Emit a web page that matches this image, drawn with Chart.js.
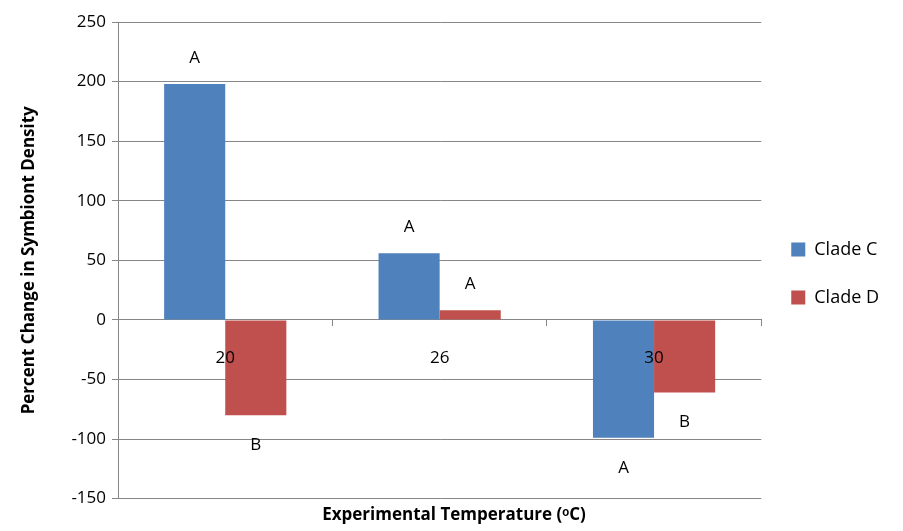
<!DOCTYPE html>
<html><head><meta charset="utf-8">
<script src="https://cdn.jsdelivr.net/npm/chart.js@4.4.1/dist/chart.umd.min.js"></script>
<style>html,body{margin:0;background:#fff}#wrap{width:903px;height:531px}</style>
</head><body><div id="wrap"><canvas id="c"></canvas></div>
<script>
const categories = ['20', '26', '30'];
const cladeC = [198, 56, -99];
const cladeD = [-80, 8, -61];
const lettersC = ['A', 'A', 'A'];
const lettersD = ['B', 'A', 'B'];
const yTicks = [250, 200, 150, 100, 50, 0, -50, -100, -150];
const FONT = '"Open Sans", sans-serif';

// Lettres de significativité + libellés de catégorie dessinés par-dessus les barres.
const letterPlugin = {
  id: 'letters',
  afterDatasetsDraw(chart) {
    const ctx = chart.ctx;
    ctx.save();
    ctx.font = '17px ' + FONT;
    ctx.fillStyle = '#000';
    ctx.textAlign = 'center';
    ctx.textBaseline = 'middle';
    [lettersC, lettersD].forEach((letters, di) => {
      chart.getDatasetMeta(di).data.forEach((bar, i) => {
        const v = chart.data.datasets[di].data[i];
        const y = v >= 0 ? bar.y - 26 : bar.y + 30;
        ctx.fillText(letters[i], bar.x, y);
      });
    });
    const xs = chart.scales.x, y0 = chart.scales.y.getPixelForValue(0);
    categories.forEach((c, i) => ctx.fillText(c, xs.getPixelForValue(i), y0 + 38));
    ctx.restore();
  }
};

new Chart(document.getElementById('c'), {
  type: 'bar',
  data: {
    labels: categories,
    datasets: [
      { label: 'Clade C', data: cladeC, backgroundColor: '#4F81BD' },
      { label: 'Clade D', data: cladeD, backgroundColor: '#C0504D' },
    ],
  },
  options: {
    responsive: true, maintainAspectRatio: false, animation: false,
    categoryPercentage: 0.57, barPercentage: 1,
    layout: { padding: { top: 22, right: 14, bottom: 6, left: 19 } },
    plugins: {
      legend: { position: 'right', labels: { boxWidth: 14, boxHeight: 14, padding: 30, color: '#000', font: { family: FONT, size: 18 } } },
      title: { display: true, position: 'bottom', text: 'Experimental Temperature (ᵒC)', color: '#000', padding: { top: 6, bottom: 0 }, font: { family: FONT, size: 17, weight: 'bold' } },
      tooltip: { enabled: false },
    },
    scales: {
      x: {
        position: { y: 0 },
        grid: { drawOnChartArea: false, offset: true, tickLength: 6, color: '#868686' },
        border: { color: '#868686' },
        ticks: { display: false },
      },
      y: {
        min: -150, max: 250,
        afterBuildTicks: ax => { ax.ticks = yTicks.map(v => ({ value: v })); },
        grid: { color: '#868686', tickLength: 6 },
        border: { color: '#868686' },
        ticks: { color: '#000', padding: 6, font: { family: FONT, size: 17 } },
        title: { display: true, text: 'Percent Change in Symbiont Density', color: '#000', padding: { top: 0, bottom: 26 }, font: { family: FONT, size: 17, weight: 'bold' } },
      },
    },
  },
  plugins: [letterPlugin],
});
</script></body></html>
